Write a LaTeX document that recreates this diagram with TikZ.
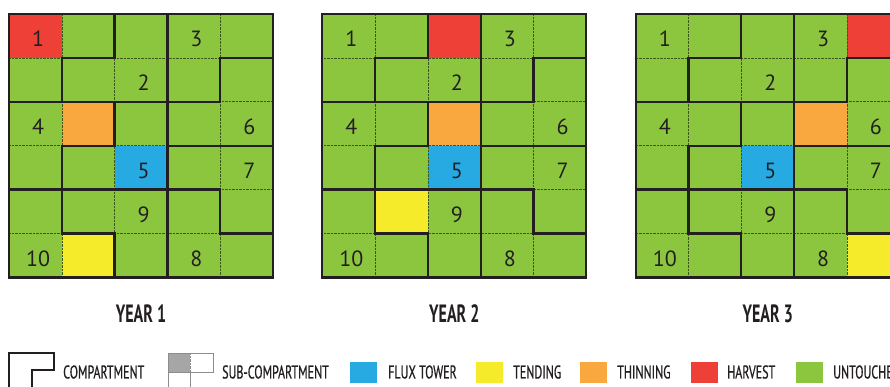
\documentclass[tikz,border=0pt]{standalone}
\usepackage{fontspec}
\setmainfont{PT Sans}
\newfontfamily\condfont[FakeStretch=0.65,FakeBold=0.6]{PT Sans}
\newfontfamily\yearfont[FakeStretch=0.64]{PT Sans Bold}
\definecolor{untouched}{HTML}{8CC63F}
\definecolor{harvest}{HTML}{EE4036}
\definecolor{thinning}{HTML}{F9A83F}
\definecolor{flux}{HTML}{27AAE1}
\definecolor{tending}{HTML}{F6EB2A}
\definecolor{inkc}{HTML}{231F20}
\begin{document}
\begin{tikzpicture}[x=1pt,y=-1pt,
  comp/.style={line width=2.3pt, line cap=rect, draw=inkc},
  subline/.style={line width=0.6pt, dash pattern=on 0.7pt off 0.7pt, draw=black!55!untouched},
  numlbl/.style={font=\fontsize{22}{22}\selectfont, text=inkc, inner sep=0pt},
  yearlbl/.style={font=\yearfont\fontsize{25}{25}\selectfont, text=inkc, inner sep=0pt},
  leglbl/.style={font=\condfont\fontsize{18.5}{18.5}\selectfont, text=inkc, anchor=west, inner sep=0pt},
  swatch/.style={minimum width=27pt, minimum height=21.5pt, inner sep=0pt, anchor=west}]
\useasboundingbox (0,0) rectangle (890,387);
\clip (0,0) rectangle (890,387);
\fill[white] (0,0) rectangle (890,387);

\foreach \g/\ox/\rc/\rr/\oc/\orr/\yc/\yr in {1/9/0/0/1/2/1/5, 2/322.3/2/0/2/2/1/4, 3/635.7/4/0/3/2/4/5}{
  \begin{scope}[shift={(\ox,14)}, x=52.8pt, y=-43.9pt]
    \fill[untouched] (0,0) rectangle (5,6);
    \fill[harvest] (\rc,\rr) rectangle ++(1,1);
    \fill[thinning] (\oc,\orr) rectangle ++(1,1);
    \fill[flux] (2,3) rectangle ++(1,1);
    \fill[tending] (\yc,\yr) rectangle ++(1,1);
    \foreach \i in {1,...,4} \draw[subline] (\i,0) -- (\i,6);
    \foreach \j in {1,...,5} \draw[subline] (0,\j) -- (5,\j);
    \draw[comp] (0,0) rectangle (5,6);
    \draw[comp] (2,0) -- (2,1) -- (1,1) -- (1,2);
    \draw[comp] (0,2) -- (4,2) -- (4,1) -- (5,1);
    \draw[comp] (3,0) -- (3,6);
    \draw[comp] (2,2) -- (2,3) -- (1,3) -- (1,4);
    \draw[comp] (3,3) -- (5,3);
    \draw[comp] (0,4) -- (4,4) -- (4,5) -- (5,5);
    \draw[comp] (1,4) -- (1,5) -- (2,5) -- (2,6);
    \foreach \n/\c/\r in {1/0/0, 3/3/0, 2/2/1, 4/0/2, 6/4/2, 5/2/3, 7/4/3, 9/2/4, 10/0/5, 8/3/5}
      \node[numlbl] (g\g n\n) at (\c+0.55,\r+0.57) {\n};
  \end{scope}
  \node[yearlbl] (year\g) at (\ox+132,314) {YEAR \g};
}

% legend: compartment symbol
\draw[comp, line cap=butt] (9,395) -- (9,353) -- (54,353) -- (54,370) -- (32,370) -- (32,395);
\node[leglbl] (lcomp) at (63,372) {COMPARTMENT};
% legend: sub-compartment symbol
\fill[black!35] (168,353) rectangle (190,372);
\draw[black!45, line width=0.8pt] (168,395) -- (168,353) -- (213,353) -- (213,372) -- (190,372);
\draw[black!45, line width=0.8pt] (168,372) -- (190,372);
\draw[black!45, line width=0.8pt, dash pattern=on 0.7pt off 0.7pt] (190,353) -- (190,372);
\draw[black!45, line width=0.8pt] (190,372) -- (190,395);
\node[leglbl] (lsub) at (222,372) {SUB-COMPARTMENT};
% legend swatches
\node[swatch, fill=flux] (sflux) at (350,372.5) {};
\node[leglbl] (lflux) at (388,372) {FLUX TOWER};
\node[swatch, fill=tending] (stend) at (476,372.5) {};
\node[leglbl] (ltend) at (513,372) {TENDING};
\node[swatch, fill=thinning] (sthin) at (580,372.5) {};
\node[leglbl] (lthin) at (617,372) {THINNING};
\node[swatch, fill=harvest] (sharv) at (691,372.5) {};
\node[leglbl] (lharv) at (727,372) {HARVEST};
\node[swatch, fill=untouched] (sunt) at (796,372.5) {};
\node[leglbl] (lunt) at (833,372) {UNTOUCHED};
\end{tikzpicture}
\end{document}
